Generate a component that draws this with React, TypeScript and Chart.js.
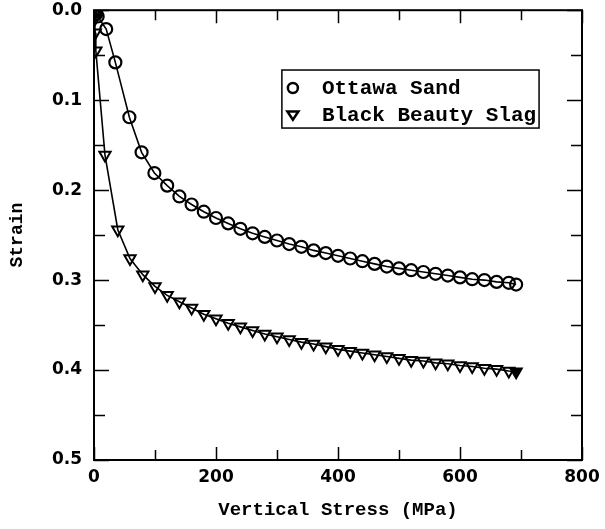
import React, { useEffect, useRef } from "react";
import { Chart, registerables } from "chart.js";
Chart.register(...registerables);

const seriesNames = ["Ottawa Sand", "Black Beauty Slag"];

const ottawaStress = [0, 1, 2, 4, 6, 20, 35, 58, 78, 99, 120, 140, 160, 180, 200, 220, 240, 260, 280, 300, 320, 340, 360, 380, 400, 420, 440, 460, 480, 500, 520, 540, 560, 580, 600, 620, 640, 660, 680, 692];
const ottawaStrain = [0, 0.001, 0.002, 0.004, 0.007, 0.021, 0.058, 0.119, 0.158, 0.181, 0.195, 0.207, 0.216, 0.224, 0.231, 0.237, 0.243, 0.248, 0.252, 0.256, 0.26, 0.263, 0.267, 0.27, 0.273, 0.276, 0.279, 0.282, 0.285, 0.287, 0.289, 0.291, 0.293, 0.295, 0.297, 0.299, 0.3, 0.302, 0.303, 0.305];

const slagStress = [0, 0.5, 1, 2, 3, 18, 39, 59, 80, 100, 120, 140, 160, 180, 200, 220, 240, 260, 280, 300, 320, 340, 360, 380, 400, 420, 440, 460, 480, 500, 520, 540, 560, 580, 600, 620, 640, 660, 680, 692];
const slagStrain = [0, 0.004, 0.01, 0.025, 0.045, 0.161, 0.244, 0.276, 0.294, 0.307, 0.317, 0.324, 0.331, 0.338, 0.343, 0.348, 0.352, 0.356, 0.36, 0.363, 0.366, 0.369, 0.371, 0.374, 0.377, 0.379, 0.381, 0.383, 0.385, 0.387, 0.389, 0.39, 0.392, 0.393, 0.395, 0.396, 0.398, 0.399, 0.401, 0.402];

const xMin = 0, xMax = 800, xMajor = 200, xMinor = 100;
const yMin = 0, yMax = 0.5, yMajor = 0.1, yMinor = 0.05;

const xTitle = "Vertical Stress (MPa)";
const yTitle = "Strain";

const MONO = "'Liberation Mono', monospace";
const TICKFONT = "'DejaVu Sans', sans-serif";

const frameAndTicks = {
  id: "frameAndTicks",
  afterDatasetsDraw(chart: any) {
    const { ctx, chartArea: a, scales } = chart;
    const xs = scales.x, ys = scales.y;
    ctx.save();
    ctx.strokeStyle = "#000";
    ctx.lineWidth = 1.5;
    for (let v = xMin; v <= xMax + 1e-9; v += xMinor) {
      const px = Math.round(xs.getPixelForValue(v)) + 0.5;
      const major = Math.abs(v / xMajor - Math.round(v / xMajor)) < 1e-6;
      const len = major ? 13 : 10;
      ctx.beginPath();
      ctx.moveTo(px, a.bottom);
      ctx.lineTo(px, a.bottom - len);
      ctx.moveTo(px, a.top);
      ctx.lineTo(px, a.top + len);
      ctx.stroke();
    }
    for (let i = 0; i <= Math.round((yMax - yMin) / yMinor); i++) {
      const v = yMin + i * yMinor;
      const py = Math.round(ys.getPixelForValue(v)) + 0.5;
      const major = i % 2 === 0;
      const len = major ? 15 : 11;
      ctx.beginPath();
      ctx.moveTo(a.left, py);
      ctx.lineTo(a.left + len, py);
      ctx.moveTo(a.right, py);
      ctx.lineTo(a.right - len, py);
      ctx.stroke();
    }
    ctx.lineWidth = 2;
    ctx.strokeRect(a.left, a.top, a.right - a.left, a.bottom - a.top);
    ctx.restore();
  },
};

const boxLegend = {
  id: "boxLegend",
  afterDraw(chart: any) {
    const { ctx, chartArea: a } = chart;
    const w = a.right - a.left, h = a.bottom - a.top;
    const bx = a.left + w * 0.385, by = a.top + h * 0.133;
    const bw = w * 0.527, bh = h * 0.129;
    ctx.save();
    ctx.fillStyle = "#fff";
    ctx.fillRect(bx, by, bw, bh);
    ctx.strokeStyle = "#000";
    ctx.lineWidth = 1.5;
    ctx.strokeRect(bx, by, bw, bh);
    ctx.font = `bold 21px ${MONO}`;
    ctx.fillStyle = "#000";
    ctx.textBaseline = "middle";
    ctx.textAlign = "left";
    const rows = [by + bh * 0.31, by + bh * 0.77];
    const mx = bx + 11;
    ctx.lineWidth = 2.5;
    ctx.beginPath();
    ctx.arc(mx, rows[0], 5, 0, Math.PI * 2);
    ctx.stroke();
    ctx.beginPath();
    const r = 5.5;
    ctx.moveTo(mx - r, rows[1] - r * 0.6);
    ctx.lineTo(mx + r, rows[1] - r * 0.6);
    ctx.lineTo(mx, rows[1] + r * 0.9);
    ctx.closePath();
    ctx.stroke();
    ctx.fillText(seriesNames[0], bx + 40, rows[0] + 1);
    ctx.fillText(seriesNames[1], bx + 40, rows[1] + 1);
    ctx.restore();
  },
};

export default function App() {
  const ref = useRef<HTMLCanvasElement>(null);
  useEffect(() => {
    const ottawa = ottawaStress.map((x, i) => ({ x, y: ottawaStrain[i] }));
    const slag = slagStress.map((x, i) => ({ x, y: slagStrain[i] }));
    const chart = new Chart(ref.current!, {
      type: "line",
      data: {
        datasets: [
          {
            label: seriesNames[0],
            data: ottawa,
            borderColor: "#000",
            borderWidth: 1.6,
            pointStyle: "circle",
            pointRadius: 6,
            pointBorderWidth: 2.2,
            pointBorderColor: "#000",
            pointBackgroundColor: "rgba(0,0,0,0)",
            tension: 0,
          },
          {
            label: seriesNames[1],
            data: slag,
            borderColor: "#000",
            borderWidth: 1.6,
            pointStyle: "triangle",
            rotation: 180,
            pointRadius: 6.5,
            pointBorderWidth: 2,
            pointBorderColor: "#000",
            pointBackgroundColor: (c: any) =>
              c.dataIndex === slagStress.length - 1 ? "#000" : "rgba(0,0,0,0)",
            tension: 0,
          },
        ],
      } as any,
      options: {
        animation: false,
        responsive: true,
        maintainAspectRatio: false,
        layout: { padding: { left: 0, top: 10, right: 23, bottom: 0 } },
        plugins: { legend: { display: false }, tooltip: { enabled: false } },
        scales: {
          x: {
            type: "linear",
            min: xMin,
            max: xMax,
            grid: { display: true, drawOnChartArea: false, drawTicks: true, tickLength: 7, color: "rgba(0,0,0,0)" },
            border: { display: false },
            ticks: {
              stepSize: xMajor,
              padding: 0,
              color: "#000",
              font: { family: TICKFONT, size: 17, weight: "bold" },
              maxRotation: 0,
              callback: (v: any) => String(v),
            },
            title: {
              display: true,
              text: xTitle,
              color: "#000",
              font: { family: MONO, size: 19, weight: "bold" },
              padding: { top: 0, bottom: 7 },
            },
            afterFit: (s: any) => {
              s.height = 69;
            },
          },
          y: {
            type: "linear",
            reverse: true,
            min: yMin,
            max: yMax,
            grid: { display: true, drawOnChartArea: false, drawTicks: true, tickLength: 12, color: "rgba(0,0,0,0)" },
            border: { display: false },
            ticks: {
              stepSize: yMajor,
              padding: 0,
              color: "#000",
              font: { family: TICKFONT, size: 17, weight: "bold" },
              callback: (v: any) => Number(v).toFixed(1),
            },
            title: {
              display: true,
              text: yTitle,
              color: "#000",
              font: { family: MONO, size: 18, weight: "bold" },
              padding: { top: 7, bottom: 0 },
            },
            afterFit: (s: any) => {
              s.width = 94;
            },
          },
        },
      } as any,
      plugins: [frameAndTicks, boxLegend],
    });
    return () => chart.destroy();
  }, []);
  return (
    <div style={{ position: "fixed", left: 0, top: 0, width: 605, height: 529, background: "#fff" }}>
      <canvas ref={ref} />
    </div>
  );
}
